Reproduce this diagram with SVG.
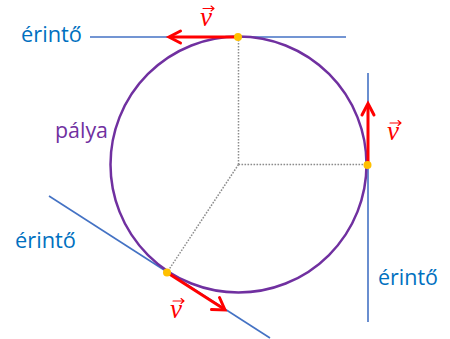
<svg xmlns="http://www.w3.org/2000/svg" width="450" height="339" viewBox="0 0 450 339">
<style>
.tan{stroke:#4472C4;stroke-width:1.6;fill:none}
.rad{stroke:#8c8c8c;stroke-width:1.5;stroke-dasharray:1.6 1.4;fill:none}
.vel{stroke:#FF0000;stroke-width:3;fill:none;stroke-linecap:butt}
.head{stroke:#FF0000;stroke-width:3;fill:none;stroke-linecap:round;stroke-linejoin:miter}
.acc{stroke:#FF0000;stroke-width:1.1;fill:none;stroke-linecap:round;stroke-linejoin:round}
.dot{fill:#FFC000}
.lbl{font-family:"Open Sans","Liberation Sans",sans-serif;font-size:21px;fill:#0070C0}
.path{font-family:"Open Sans","Liberation Sans",sans-serif;font-size:21px;fill:#7030A0}
.v{font-family:"Liberation Serif","DejaVu Serif",serif;font-style:italic;font-size:27px;fill:#FF0000}
</style>
<rect width="450" height="339" fill="#ffffff"/>
<g id="connectors">
<line class="rad" x1="238.5" y1="164.5" x2="238.5" y2="37"/>
<line class="rad" x1="238.5" y1="164.5" x2="367" y2="164.5"/>
<line class="rad" x1="238.5" y1="164.5" x2="167" y2="272.5"/>
<line class="tan" x1="90" y1="37" x2="346" y2="37"/>
<line class="tan" x1="368" y1="73" x2="368" y2="322"/>
<line class="tan" x1="49" y1="196" x2="270" y2="338"/>
</g>
<g id="orbit">
<circle cx="238.5" cy="164.5" r="128" fill="none" stroke="#7030A0" stroke-width="2.5"/>
<text class="path" x="55" y="138" textLength="53" lengthAdjust="spacingAndGlyphs">pálya</text>
</g>
<g id="v-top">
<line class="vel" x1="238" y1="37" x2="170" y2="37"/>
<polyline class="head" points="180.5,31 169,37 180.5,43"/>
<circle class="dot" cx="238" cy="37" r="4"/>
<text class="v" x="200" y="26">v</text>
<path class="acc" d="M203,8.5 H214 M211,6 L214,8.5 L211,11"/>
</g>
<g id="v-right">
<line class="vel" x1="368" y1="165" x2="368" y2="104"/>
<polyline class="head" points="362,115 368,103.5 374,115"/>
<circle class="dot" cx="367.5" cy="165" r="4"/>
<text class="v" x="387" y="140">v</text>
<path class="acc" d="M390,123 H401 M398,120.5 L401,123 L398,125.5"/>
</g>
<g id="v-bottom">
<line class="vel" x1="167" y1="272.5" x2="224" y2="309"/>
<polyline class="head" points="211.5,309.5 225,310 219.5,297.5"/>
<circle class="dot" cx="167" cy="272.5" r="4"/>
<text class="v" x="170" y="318">v</text>
<path class="acc" d="M173,301 H184 M181,298.5 L184,301 L181,303.5"/>
</g>
<g id="label-top"><text class="lbl" x="21" y="42" textLength="61" lengthAdjust="spacingAndGlyphs">érintő</text></g>
<g id="label-left"><text class="lbl" x="15" y="248" textLength="61" lengthAdjust="spacingAndGlyphs">érintő</text></g>
<g id="label-right"><text class="lbl" x="378" y="285" textLength="60" lengthAdjust="spacingAndGlyphs">érintő</text></g>
</svg>
